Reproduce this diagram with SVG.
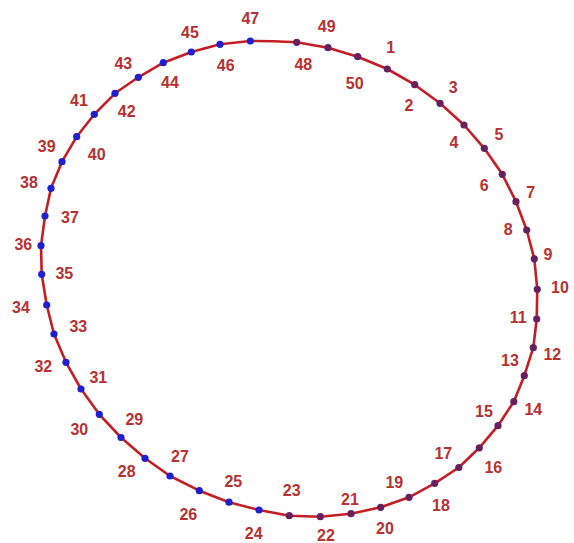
<svg xmlns="http://www.w3.org/2000/svg" width="574" height="543" viewBox="0 0 574 543">
<style>
.ring{fill:none;stroke:#c41e24;stroke-width:2.6;stroke-linejoin:round}
.b{fill:#1f1fd0}
.p{fill:#66205e}
text{font-family:"Liberation Sans",Arial,sans-serif;font-weight:bold;font-size:16px;fill:#b8302f;text-anchor:middle}
</style>
<rect width="574" height="543" fill="#ffffff"/>
<g id="connectors">
<polygon class="ring" points="387.3,69 414.7,84.7 440,103.3 464,125 484.3,148.3 502.3,174.3 516,201.7 526.7,230 534.3,258.8 537.3,289.3 536.7,319 533.3,347.7 524.3,375.7 513.8,401.7 498,425.7 479.3,447.8 458.8,467.5 434.7,483.3 409,497.3 380.7,507.3 351,513.7 320.3,516.7 289.3,515.7 259,510 229,502.2 199.3,490.7 170,476 145,458.3 121,437.5 99.3,414.3 81,389 66,362.3 54,334 46.7,305 41.7,274.3 41,245.7 45,216 51,188.3 62,161.7 76.7,136.7 94.3,114.3 115,93.3 138.3,77.3 163.3,62.7 191.3,52 220,44.3 250.3,41 273.5,41.2 296.7,42.3 328,47.7 357.7,56.7"/>
</g>
<g id="n1"><circle class="p" cx="387.3" cy="69" r="3.6"/><text x="390.7" y="53.3">1</text></g>
<g id="n2"><circle class="p" cx="414.7" cy="84.7" r="3.6"/><text x="409" y="111">2</text></g>
<g id="n3"><circle class="p" cx="440" cy="103.3" r="3.6"/><text x="453.3" y="93.3">3</text></g>
<g id="n4"><circle class="p" cx="464" cy="125" r="3.6"/><text x="454" y="148.3">4</text></g>
<g id="n5"><circle class="p" cx="484.3" cy="148.3" r="3.6"/><text x="499" y="140">5</text></g>
<g id="n6"><circle class="p" cx="502.3" cy="174.3" r="3.6"/><text x="484.3" y="191">6</text></g>
<g id="n7"><circle class="p" cx="516" cy="201.7" r="3.6"/><text x="530.7" y="198.3">7</text></g>
<g id="n8"><circle class="p" cx="526.7" cy="230" r="3.6"/><text x="508.3" y="235">8</text></g>
<g id="n9"><circle class="p" cx="534.3" cy="258.8" r="3.6"/><text x="548" y="260">9</text></g>
<g id="n10"><circle class="p" cx="537.3" cy="289.3" r="3.6"/><text x="560" y="292.7">10</text></g>
<g id="n11"><circle class="p" cx="536.7" cy="319" r="3.6"/><text x="518.3" y="323.3">11</text></g>
<g id="n12"><circle class="p" cx="533.3" cy="347.7" r="3.6"/><text x="552.3" y="360.3">12</text></g>
<g id="n13"><circle class="p" cx="524.3" cy="375.7" r="3.6"/><text x="510" y="366">13</text></g>
<g id="n14"><circle class="p" cx="513.8" cy="401.7" r="3.6"/><text x="533.3" y="415.3">14</text></g>
<g id="n15"><circle class="p" cx="498" cy="425.7" r="3.6"/><text x="484" y="416.5">15</text></g>
<g id="n16"><circle class="p" cx="479.3" cy="447.8" r="3.6"/><text x="493.3" y="472.7">16</text></g>
<g id="n17"><circle class="p" cx="458.8" cy="467.5" r="3.6"/><text x="443.3" y="458.7">17</text></g>
<g id="n18"><circle class="p" cx="434.7" cy="483.3" r="3.6"/><text x="441" y="511">18</text></g>
<g id="n19"><circle class="p" cx="409" cy="497.3" r="3.6"/><text x="394.3" y="487.7">19</text></g>
<g id="n20"><circle class="p" cx="380.7" cy="507.3" r="3.6"/><text x="385" y="534.3">20</text></g>
<g id="n21"><circle class="p" cx="351" cy="513.7" r="3.6"/><text x="350" y="505">21</text></g>
<g id="n22"><circle class="p" cx="320.3" cy="516.7" r="3.6"/><text x="326" y="541">22</text></g>
<g id="n23"><circle class="p" cx="289.3" cy="515.7" r="3.6"/><text x="291.7" y="496">23</text></g>
<g id="n24"><circle class="b" cx="259" cy="510" r="3.6"/><text x="253.7" y="538.5">24</text></g>
<g id="n25"><circle class="b" cx="229" cy="502.2" r="3.6"/><text x="233.3" y="487">25</text></g>
<g id="n26"><circle class="b" cx="199.3" cy="490.7" r="3.6"/><text x="188.3" y="520.3">26</text></g>
<g id="n27"><circle class="b" cx="170" cy="476" r="3.6"/><text x="180" y="461.7">27</text></g>
<g id="n28"><circle class="b" cx="145" cy="458.3" r="3.6"/><text x="126.7" y="477">28</text></g>
<g id="n29"><circle class="b" cx="121" cy="437.5" r="3.6"/><text x="134.3" y="425.3">29</text></g>
<g id="n30"><circle class="b" cx="99.3" cy="414.3" r="3.6"/><text x="79.3" y="435.3">30</text></g>
<g id="n31"><circle class="b" cx="81" cy="389" r="3.6"/><text x="98.3" y="382.7">31</text></g>
<g id="n32"><circle class="b" cx="66" cy="362.3" r="3.6"/><text x="43.3" y="371.7">32</text></g>
<g id="n33"><circle class="b" cx="54" cy="334" r="3.6"/><text x="78.3" y="332">33</text></g>
<g id="n34"><circle class="b" cx="46.7" cy="305" r="3.6"/><text x="21" y="312.7">34</text></g>
<g id="n35"><circle class="b" cx="41.7" cy="274.3" r="3.6"/><text x="64.3" y="279.3">35</text></g>
<g id="n36"><circle class="b" cx="41" cy="245.7" r="3.6"/><text x="23.3" y="250.3">36</text></g>
<g id="n37"><circle class="b" cx="45" cy="216" r="3.6"/><text x="70" y="222.7">37</text></g>
<g id="n38"><circle class="b" cx="51" cy="188.3" r="3.6"/><text x="29" y="188.3">38</text></g>
<g id="n39"><circle class="b" cx="62" cy="161.7" r="3.6"/><text x="46.7" y="152">39</text></g>
<g id="n40"><circle class="b" cx="76.7" cy="136.7" r="3.6"/><text x="96.7" y="160.3">40</text></g>
<g id="n41"><circle class="b" cx="94.3" cy="114.3" r="3.6"/><text x="79" y="106">41</text></g>
<g id="n42"><circle class="b" cx="115" cy="93.3" r="3.6"/><text x="126.7" y="117">42</text></g>
<g id="n43"><circle class="b" cx="138.3" cy="77.3" r="3.6"/><text x="123.3" y="68.7">43</text></g>
<g id="n44"><circle class="b" cx="163.3" cy="62.7" r="3.6"/><text x="170" y="88.3">44</text></g>
<g id="n45"><circle class="b" cx="191.3" cy="52" r="3.6"/><text x="190" y="37.7">45</text></g>
<g id="n46"><circle class="b" cx="220" cy="44.3" r="3.6"/><text x="225.7" y="71">46</text></g>
<g id="n47"><circle class="b" cx="250.3" cy="41" r="3.6"/><text x="250.3" y="24.3">47</text></g>
<g id="n48"><circle class="p" cx="296.7" cy="42.3" r="3.6"/><text x="303.3" y="70">48</text></g>
<g id="n49"><circle class="p" cx="328" cy="47.7" r="3.6"/><text x="326.7" y="32">49</text></g>
<g id="n50"><circle class="p" cx="357.7" cy="56.7" r="3.6"/><text x="354.7" y="89.3">50</text></g>
</svg>
